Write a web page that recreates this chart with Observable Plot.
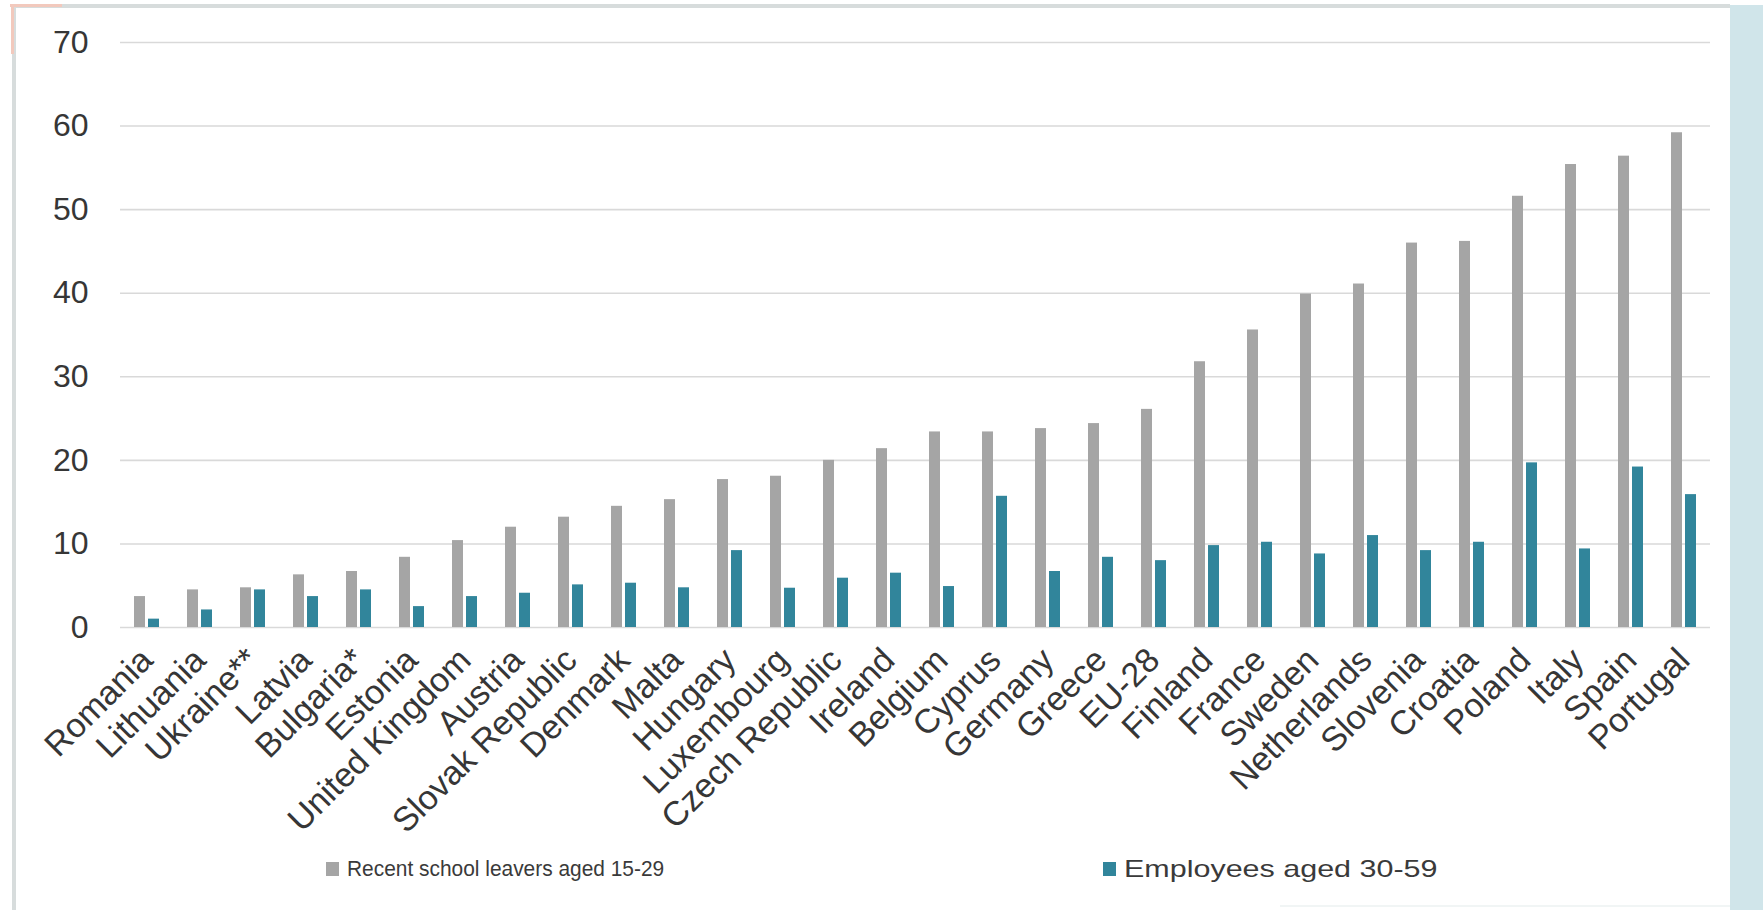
<!DOCTYPE html>
<html>
<head>
<meta charset="utf-8">
<script src="https://cdn.jsdelivr.net/npm/d3@7"></script>
<script src="https://cdn.jsdelivr.net/npm/@observablehq/plot@0.6"></script>
<style>
  html, body { margin: 0; padding: 0; background: #ffffff; }
  #page { position: relative; width: 1763px; height: 910px; overflow: hidden; background: #fff;
          font-family: "Liberation Sans", Arial, sans-serif; }
  .frame-top { position: absolute; left: 11px; top: 4px; width: 1719px; height: 4px; background: #d7dcdc; }
  .frame-left { position: absolute; left: 12px; top: 4px; width: 4px; height: 906px; background: #d7dcdc; }
  .accent-top { position: absolute; left: 10px; top: 4px; width: 52px; height: 3px; background: #f2c9bd; }
  .accent-left { position: absolute; left: 11px; top: 4px; width: 3px; height: 50px; background: #f2c9bd; }
  .panel-right { position: absolute; left: 1730px; top: 5px; width: 33px; height: 905px; background: #d0e5ea; }
  .frame-bottom { position: absolute; left: 1280px; top: 905px; width: 450px; height: 2px; background: #f1f5f5; }
  #chart { position: absolute; left: 0; top: 0; }
  #chart g[aria-label^="fx-axis"] text { font-size: 34px; }
  .legend { position: absolute; top: 854px; height: 30px; display: flex; align-items: center;
            font-size: 22px; color: #3a3a3a; white-space: nowrap; }
  .legend .sw { width: 13px; height: 14px; margin-right: 8px; flex: none; }
  .legend span { display: inline-block; transform-origin: 0 50%; }
  #leg1 span { transform: scaleX(0.95); }
  #leg2 { font-size: 24px; }
  #leg2 span { transform: scaleX(1.27); }
</style>
</head>
<body>
<div id="page">
  <div class="frame-top"></div>
  <div class="frame-left"></div>
  <div class="accent-top"></div>
  <div class="accent-left"></div>
  <div class="panel-right"></div>
  <div class="frame-bottom"></div>
  <div id="chart"></div>
  <div class="legend" id="leg1" style="left:326px;"></div>
  <div class="legend" id="leg2" style="left:1103px;"></div>
</div>
<script>
const countries = ["Romania","Lithuania","Ukraine**","Latvia","Bulgaria*","Estonia","United Kingdom","Austria",
  "Slovak Republic","Denmark","Malta","Hungary","Luxembourg","Czech Republic","Ireland","Belgium","Cyprus",
  "Germany","Greece","EU-28","Finland","France","Sweden","Netherlands","Slovenia","Croatia","Poland","Italy",
  "Spain","Portugal"];
const schoolLeavers = [3.7,4.5,4.75,6.3,6.7,8.4,10.4,12.0,13.2,14.5,15.3,17.7,18.1,20.0,21.4,23.4,23.4,
  23.8,24.4,26.1,31.8,35.6,39.9,41.1,46.0,46.2,51.6,55.4,56.4,59.2];
const employees = [1.0,2.1,4.5,3.7,4.5,2.5,3.7,4.1,5.1,5.3,4.75,9.2,4.7,5.9,6.5,4.9,15.7,
  6.7,8.4,8.0,9.8,10.2,8.8,11.0,9.2,10.2,19.7,9.4,19.2,15.9];
const seriesNames = ["Recent school leavers aged 15-29","Employees aged 30-59"];
const seriesColors = ["#a5a5a5","#31859b"];
const yTicks = [0,10,20,30,40,50,60,70];

const data = [];
countries.forEach((c, i) => {
  data.push({country: c, series: seriesNames[0], value: schoolLeavers[i]});
  data.push({country: c, series: seriesNames[1], value: employees[i]});
});

const W = 1763, H = 850;
const chart = Plot.plot({
  width: W,
  height: H,
  marginLeft: 119,
  marginRight: 52,
  marginTop: 42,
  marginBottom: H - 627,
  style: {fontFamily: "'Liberation Sans', Arial, sans-serif", fontSize: "32px", color: "#363636", background: "transparent", overflow: "visible"},
  fx: {domain: countries, padding: 0, label: null, tickRotate: -45, tickSize: 0, tickPadding: 27},
  x: {domain: seriesNames, paddingInner: 0.25, paddingOuter: 0.98, axis: null},
  y: {domain: [0, 70], ticks: yTicks, tickSize: 0, tickPadding: 32, label: null, tickFormat: d => String(d)},
  color: {domain: seriesNames, range: seriesColors},
  marks: [
    Plot.ruleY(yTicks, {stroke: "#d9d9d9", strokeWidth: 1.6}),
    Plot.barY(data, {fx: "country", x: "series", y: "value", fill: "series"})
  ]
});
document.getElementById("chart").appendChild(chart);

function legendItem(el, name, color) {
  const sw = document.createElement("div");
  sw.className = "sw";
  sw.style.background = color;
  const t = document.createElement("span");
  t.textContent = name;
  el.appendChild(sw);
  el.appendChild(t);
}
legendItem(document.getElementById("leg1"), seriesNames[0], seriesColors[0]);
legendItem(document.getElementById("leg2"), seriesNames[1], seriesColors[1]);
</script>
</body>
</html>
